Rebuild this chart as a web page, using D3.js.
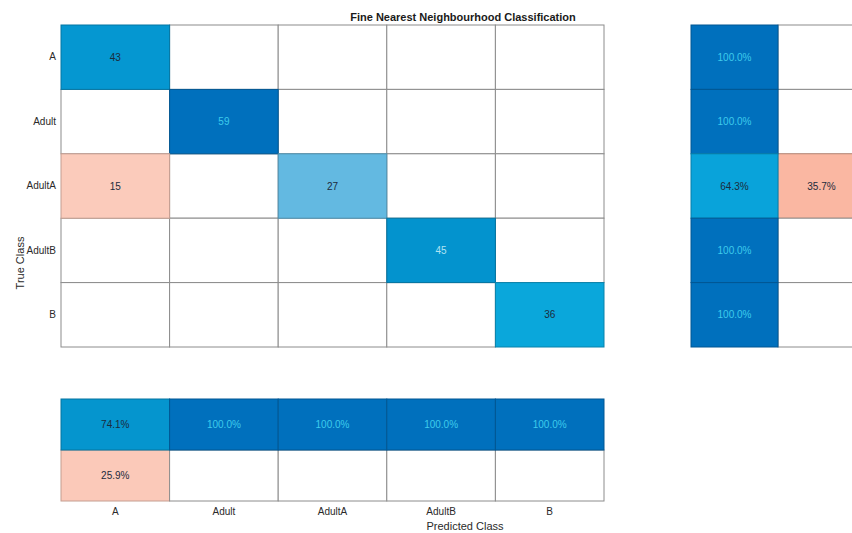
<!DOCTYPE html>
<html>
<head>
<meta charset="utf-8">
<script src="https://cdn.jsdelivr.net/npm/d3@7/dist/d3.min.js"></script>
<style>
  html, body { margin: 0; padding: 0; background: #fff; overflow: hidden; }
  svg { display: block; font-family: "Liberation Sans", Arial, sans-serif; }
</style>
</head>
<body>
<svg id="chart" width="852" height="533"></svg>
<script>
// Class names (true rows / predicted columns)
const classes = ["A", "Adult", "AdultA", "AdultB", "B"];

// Confusion counts, one row per true class
const rowA      = [43, 0, 0, 0, 0];
const rowAdult  = [0, 59, 0, 0, 0];
const rowAdultA = [15, 0, 27, 0, 0];
const rowAdultB = [0, 0, 0, 45, 0];
const rowB      = [0, 0, 0, 0, 36];
const counts = [rowA, rowAdult, rowAdultA, rowAdultB, rowB];

// Row summary (true positive rate / false negative rate), %
const rowCorrect   = [100.0, 100.0, 64.3, 100.0, 100.0];
const rowIncorrect = [0, 0, 35.7, 0, 0];

// Column summary (precision / false discovery rate), %
const colCorrect   = [74.1, 100.0, 100.0, 100.0, 100.0];
const colIncorrect = [25.9, 0, 0, 0, 0];

const title = "Fine Nearest Neighbourhood Classification";
const xTitle = "Predicted Class";
const yTitle = "True Class";

const svg = d3.select("#chart");

// Scales
const x = d3.scaleBand().domain(classes).range([61, 604]);
const y = d3.scaleBand().domain(classes).range([25, 347]);
const xRow = d3.scaleBand().domain(["correct", "incorrect"]).range([691, 865]);
const yCol = d3.scaleBand().domain(["correct", "incorrect"]).range([399, 501]);

const blueCount = d3.scaleLinear().domain([27, 36, 45, 59])
  .range(["#63b9e1", "#0aa7db", "#0393ce", "#0070bd"]);
const redCount = d3.scaleLinear().domain([0, 15]).range(["#ffffff", "#fbcbbb"]);
const bluePct = d3.scaleLinear().domain([64.3, 74.1, 100])
  .range(["#09a3da", "#0595ce", "#0070bd"]);
const redPct = d3.scaleLinear().domain([25.9, 35.7]).range(["#fbc9b9", "#fab7a2"]);

// Label colour follows how deep the blue is
const diagVals = classes.map((c, i) => counts[i][i]);
const depth = d3.scaleLinear().domain(d3.extent(diagVals)).range([0, 1]);
function labelColor(t) {
  if (t >= 0.9) return "#3ecbec";
  if (t > 0.52) return "#b2e3f3";
  return "#1c2b3c";
}

const gridStroke = "#8c8c8c";
const fmtPct = d3.format(".1f");

function drawCell(g, x0, y0, w, h, fill, label, color) {
  g.append("rect")
    .attr("x", x0).attr("y", y0).attr("width", w).attr("height", h)
    .attr("fill", fill)
    .attr("stroke", fill === "#ffffff" ? gridStroke : d3.color(fill).darker(0.7))
    .attr("stroke-width", 1);
  if (label !== null) {
    g.append("text")
      .attr("x", x0 + w / 2).attr("y", y0 + h / 2)
      .attr("text-anchor", "middle").attr("dominant-baseline", "central")
      .attr("font-size", 10).attr("fill", color)
      .text(label);
  }
}

// Main confusion matrix: white cells first so coloured borders sit on top
const main = svg.append("g");
const cells = [];
counts.forEach((row, i) => row.forEach((v, j) => cells.push({ i, j, v })));
cells.sort((a, b) => (a.v > 0) - (b.v > 0));
cells.forEach(({ i, j, v }) => {
  let fill = "#ffffff", label = null, color = "#1c2b3c";
  if (v > 0) {
    label = String(v);
    if (i === j) { fill = blueCount(v); color = labelColor(depth(v)); }
    else { fill = redCount(v); }
  }
  drawCell(main, x(classes[j]), y(classes[i]), x.bandwidth(), y.bandwidth(), fill, label, color);
});

// Row summary panel
const rowPanel = svg.append("g");
classes.forEach((c, i) => {
  const wrong = rowIncorrect[i];
  drawCell(rowPanel, xRow("incorrect"), y(c), xRow.bandwidth(), y.bandwidth(),
    wrong > 0 ? redPct(wrong) : "#ffffff",
    wrong > 0 ? fmtPct(wrong) + "%" : null, "#1c2b3c");
});
classes.forEach((c, i) => {
  const ok = rowCorrect[i];
  drawCell(rowPanel, xRow("correct"), y(c), xRow.bandwidth(), y.bandwidth(),
    bluePct(ok), fmtPct(ok) + "%", ok >= 99 ? "#3ecbec" : "#1c2b3c");
});

// Column summary panel
const colPanel = svg.append("g");
classes.forEach((c, j) => {
  const wrong = colIncorrect[j];
  drawCell(colPanel, x(c), yCol("incorrect"), x.bandwidth(), yCol.bandwidth(),
    wrong > 0 ? redPct(wrong) : "#ffffff",
    wrong > 0 ? fmtPct(wrong) + "%" : null, "#1c2b3c");
});
classes.forEach((c, j) => {
  const ok = colCorrect[j];
  drawCell(colPanel, x(c), yCol("correct"), x.bandwidth(), yCol.bandwidth(),
    bluePct(ok), fmtPct(ok) + "%", ok >= 99 ? "#3ecbec" : "#1c2b3c");
});

// Axes: tick labels only
const yAxis = svg.append("g").attr("transform", "translate(61,0)")
  .call(d3.axisLeft(y).tickSize(0).tickPadding(5));
const xAxis = svg.append("g").attr("transform", "translate(0,501)")
  .call(d3.axisBottom(x).tickSize(0).tickPadding(7));
[yAxis, xAxis].forEach(a => {
  a.select(".domain").remove();
  a.selectAll("text").attr("font-size", 10).attr("fill", "#2a2a2a")
    .attr("font-family", "'Liberation Sans', Arial, sans-serif");
});

// Titles
svg.append("text")
  .attr("x", 463).attr("y", 21)
  .attr("text-anchor", "middle")
  .attr("font-size", 11).attr("font-weight", "bold").attr("fill", "#1a1a1a")
  .text(title);

svg.append("text")
  .attr("x", 465).attr("y", 530)
  .attr("text-anchor", "middle")
  .attr("font-size", 11).attr("fill", "#2a2a2a")
  .text(xTitle);

svg.append("text")
  .attr("transform", "translate(24,263) rotate(-90)")
  .attr("text-anchor", "middle")
  .attr("font-size", 11).attr("fill", "#2a2a2a")
  .text(yTitle);
</script>
</body>
</html>
